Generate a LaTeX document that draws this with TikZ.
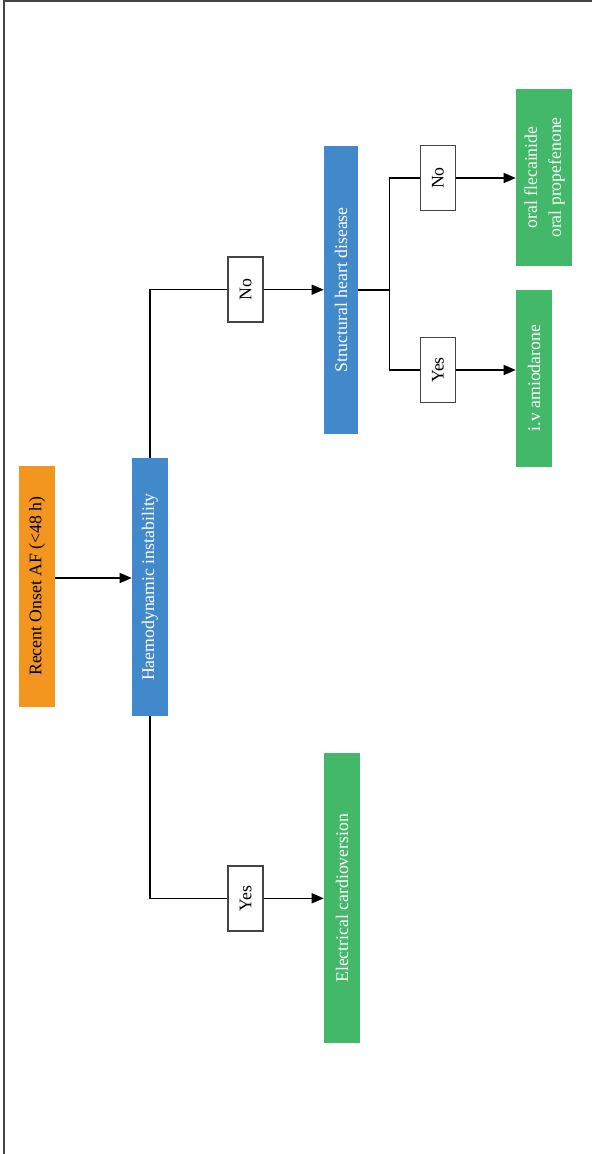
\documentclass[tikz,border=0pt]{standalone}
\usepackage{fontspec}
\setmainfont{Liberation Serif}
\usepackage{tikz}
\usetikzlibrary{arrows.meta}

\definecolor{onsetorange}{HTML}{F3961F}
\definecolor{stepblue}{HTML}{4289CB}
\definecolor{treatgreen}{HTML}{42B868}
\definecolor{framegray}{HTML}{444444}

\begin{document}
\begin{tikzpicture}[x=0.75pt, y=-0.75pt,
    every node/.style={font=\fontsize{13.3}{18}\selectfont, inner sep=0pt, align=center},
    bar/.style={fill=#1, draw=none},
    answer/.style={draw=framegray, line width=1.1pt, fill=white, minimum width=26.25pt, minimum height=48.75pt},
    conn/.style={line width=1pt, black},
    arr/.style={conn, -{Triangle[length=9pt, width=7.5pt]}}]
    \useasboundingbox (0,0) rectangle (592,1154);
    \draw[framegray, line width=1.5pt] (3.5,1154) -- (3.5,0.8) -- (592,0.8);

    \node[bar=onsetorange, minimum width=27pt, minimum height=180.75pt] (onset) at (37,586) {\rotatebox{90}{Recent Onset AF (<48 h)}};
    \node[bar=stepblue, text=white, minimum width=27pt, minimum height=193.5pt] (haemo) at (150,587) {\rotatebox{90}{Haemodynamic instability}};
    \node[answer] (no1) at (245.7,289.7) {\rotatebox{90}{No}};
    \node[answer] (yes1) at (245.7,898.3) {\rotatebox{90}{Yes}};
    \node[bar=stepblue, text=white, minimum width=25.5pt, minimum height=216pt] (shd) at (341,290) {\rotatebox{90}{Structural heart disease}};
    \node[bar=treatgreen, text=white, minimum width=27pt, minimum height=217.5pt] (elec) at (342,898.3) {\rotatebox{90}{Electrical cardioversion}};
    \node[answer] (no2) at (438,178) {\rotatebox{90}{No}};
    \node[answer] (yes2) at (438,370) {\rotatebox{90}{Yes}};
    \node[bar=treatgreen, text=white, minimum width=42pt, minimum height=132.75pt] (flec) at (544,177.5) {\rotatebox{90}{\begin{tabular}{@{}c@{}}oral flecainide\\oral propefenone\end{tabular}}};
    \node[bar=treatgreen, text=white, minimum width=27pt, minimum height=132.75pt] (amio) at (534,378) {\rotatebox{90}{i.v amiodarone}};

    % first decision
    \draw[arr] ([yshift=6pt]onset.east) -- ([yshift=6pt]onset.east -| haemo.west);
    \draw[conn] (haemo.north) |- (no1.west);
    \draw[conn] (haemo.south) |- (yes1.west);
    \draw[arr] (no1.east) -- (no1.east -| shd.west);
    \draw[arr] (yes1.east) -- (yes1.east -| elec.west);

    % structural heart disease
    \path (shd.east) ++(31,0) coordinate (split);
    \draw[conn] (shd.east) -- (split);
    \draw[conn] (no2.west) -| (split) |- (yes2.west);
    \draw[arr] (no2.east) -- (no2.east -| flec.west);
    \draw[arr] (yes2.east) -- (yes2.east -| amio.west);
\end{tikzpicture}
\end{document}
